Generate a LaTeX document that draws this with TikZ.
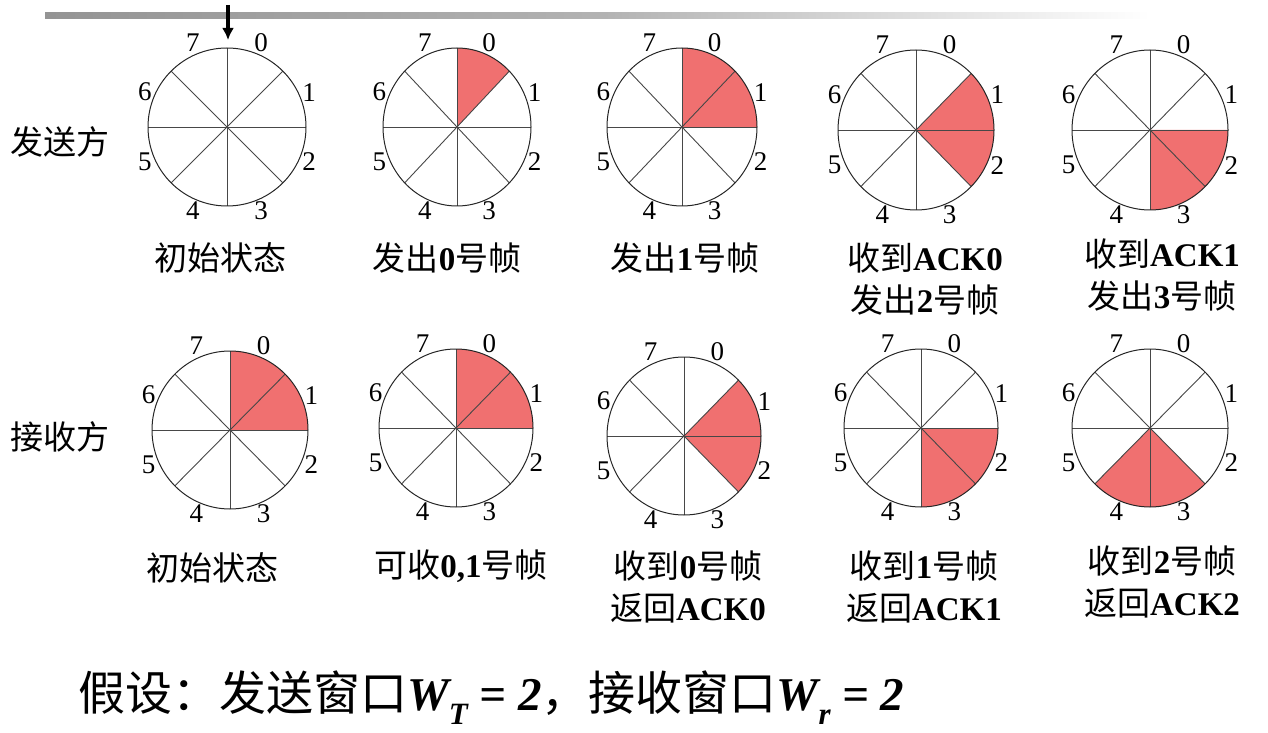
\documentclass[tikz,border=0pt]{standalone}
\usepackage{fontspec}
\setmainfont{Liberation Serif}
\newfontfamily\cjk{Noto Sans CJK SC}
\usetikzlibrary{calc,arrows.meta}
\definecolor{winred}{RGB}{240,112,112}
\tikzset{
  spokeline/.style={draw=black!72,line width=0.9pt},
  rimline/.style={draw=black!85,line width=1pt},
  winfill/.style={fill=winred},
  numlbl/.style={font=\fontsize{27}{27}\selectfont,inner sep=0pt},
  captxt/.style={font=\fontsize{33}{42}\selectfont,inner sep=0pt,align=center},
  sidelbl/.style={font=\cjk\fontsize{33}{33}\selectfont,inner sep=0pt},
  notetxt/.style={font=\fontsize{47}{47}\selectfont,inner sep=0pt,anchor=west},
}
\newcommand\zh[1]{{\cjk #1}}
\newcommand\sector[5]{% name, rx, ry, start, end
  \fill[winfill] (#1) -- ++(#4:#2 and #3) arc[start angle=#4, end angle=#5, x radius=#2, y radius=#3] -- cycle;
}
\newcommand\wheel[3]{% name, rx, ry
  \foreach \a in {0,45,...,315} \draw[spokeline] (#1) -- ++({#2*cos(\a)},{#3*sin(\a)});
  \draw[rimline] (#1) ellipse[x radius=#2, y radius=#3];
  \foreach \k in {0,...,7} {
    \node[numlbl] (#1-\k) at ($(#1)+({(#2+10)*cos(67.5-45*\k)},{(#3+12)*sin(67.5-45*\k)})$) {\k};
  }
}
\begin{document}
\begin{tikzpicture}[x=1pt,y=1pt]
\useasboundingbox (0,0) rectangle (1268,732);
% top bar
\shade[left color=black!42,right color=black!30] (45,713) rectangle (600,719);
\shade[left color=black!30,right color=white] (600,713) rectangle (1150,719);
% arrow
\coordinate (arrowtop) at (228,727);
\coordinate (arrowtip) at (228,692);
\draw[line width=3.2pt,-{Latex[length=12pt,width=12pt]}] (arrowtop) -- (arrowtip);
% centres
\coordinate (t1) at (227,605);
\coordinate (t2) at (457,605);
\coordinate (t3) at (682,605);
\coordinate (t4) at (916,602);
\coordinate (t5) at (1150,602);
\coordinate (b1) at (230,302);
\coordinate (b2) at (456,304);
\coordinate (b3) at (684,296);
\coordinate (b4) at (921,304);
\coordinate (b5) at (1150,304);
% windows
\sector{t2}{74}{79}{90}{45}
\sector{t3}{75}{79}{90}{0}
\sector{t4}{78}{80}{45}{-45}
\sector{t5}{78}{80}{0}{-90}
\sector{b1}{78}{79}{90}{0}
\sector{b2}{77}{79}{90}{0}
\sector{b3}{77}{79}{45}{-45}
\sector{b4}{77}{79}{0}{-90}
\sector{b5}{78}{79}{-45}{-135}
% wheels
\wheel{t1}{79}{79}
\wheel{t2}{74}{79}
\wheel{t3}{75}{79}
\wheel{t4}{78}{80}
\wheel{t5}{78}{80}
\wheel{b1}{78}{79}
\wheel{b2}{77}{79}
\wheel{b3}{77}{79}
\wheel{b4}{77}{79}
\wheel{b5}{78}{79}
% side labels
\node[sidelbl] (sender) at (60,590) {发送方};
\node[sidelbl] (receiver) at (60,295) {接收方};
% captions top
\node[captxt] (ct1) at (220,474) {\zh{初始状态}};
\node[captxt] (ct2) at (447,474) {\zh{发出}\textbf{0}\zh{号帧}};
\node[captxt] (ct3) at (685,474) {\zh{发出}\textbf{1}\zh{号帧}};
\node[captxt] (ct4) at (925,453) {\zh{收到}\textbf{ACK0}\\\zh{发出}\textbf{2}\zh{号帧}};
\node[captxt] (ct5) at (1162,457) {\zh{收到}\textbf{ACK1}\\\zh{发出}\textbf{3}\zh{号帧}};
% captions bottom
\node[captxt] (cb1) at (212,164) {\zh{初始状态}};
\node[captxt] (cb2) at (461,166) {\zh{可收}\textbf{0,1}\zh{号帧}};
\node[captxt] (cb3) at (688,145) {\zh{收到}\textbf{0}\zh{号帧}\\\zh{返回}\textbf{ACK0}};
\node[captxt] (cb4) at (924,145) {\zh{收到}\textbf{1}\zh{号帧}\\\zh{返回}\textbf{ACK1}};
\node[captxt] (cb5) at (1162,150) {\zh{收到}\textbf{2}\zh{号帧}\\\zh{返回}\textbf{ACK2}};
% assumption
\node[notetxt] (assume) at (78,34) {\zh{假设：发送窗口}{\bfseries\itshape W\raisebox{-0.3em}{\fontsize{31}{31}\selectfont T} = 2}\zh{，接收窗口}{\bfseries\itshape W\raisebox{-0.3em}{\fontsize{31}{31}\selectfont r} = 2}};
\end{tikzpicture}
\end{document}
